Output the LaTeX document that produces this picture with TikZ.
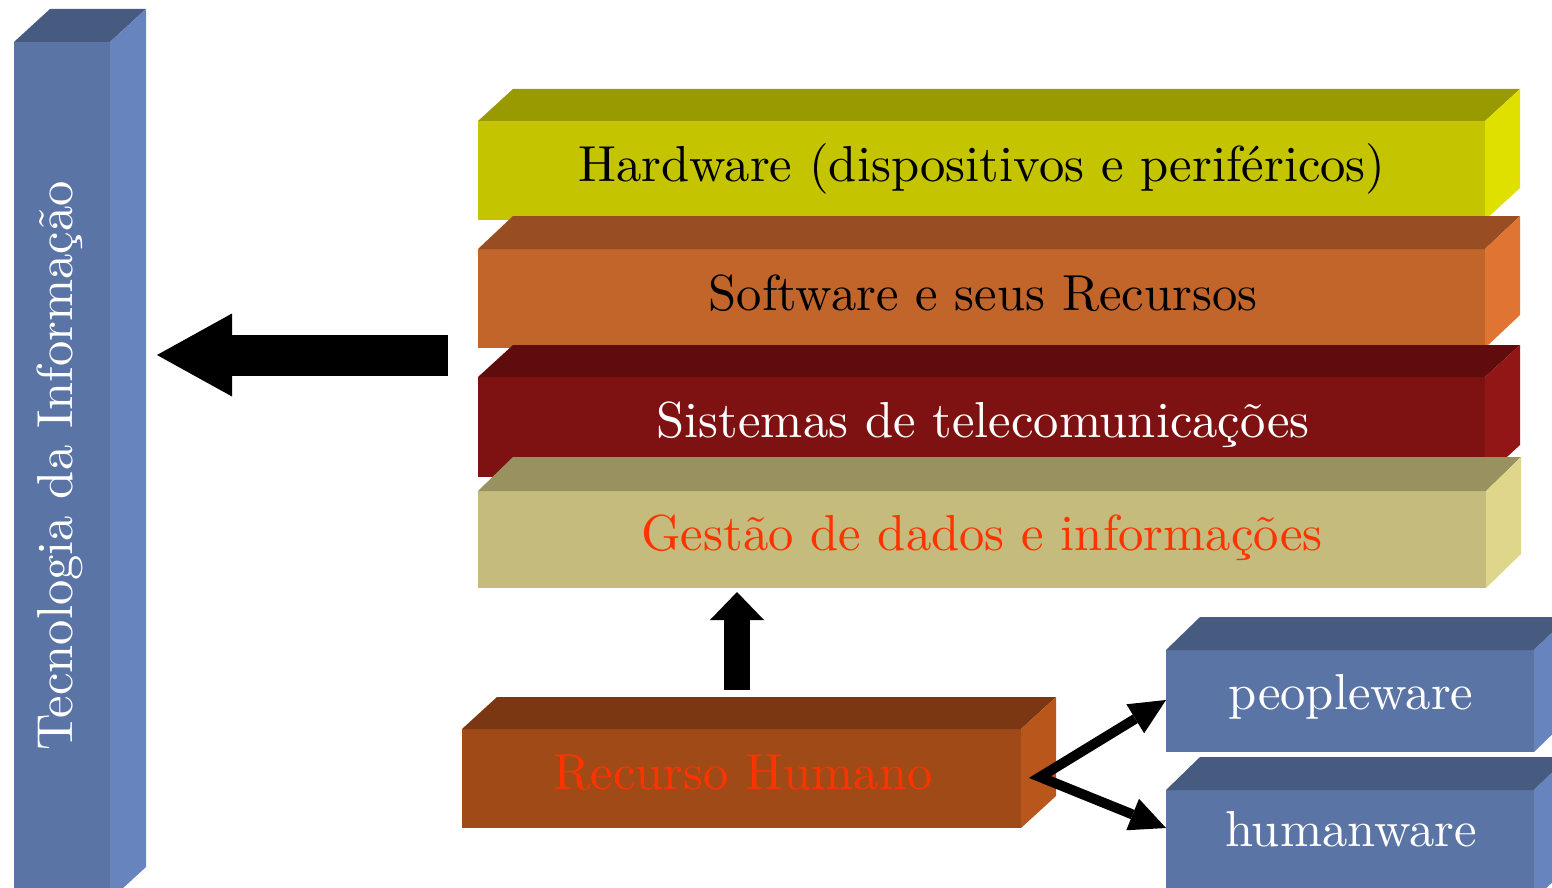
\documentclass[tikz,border=0pt]{standalone}
\usepackage{fontspec}
\setmainfont{lmroman10-regular}[Extension=.otf]
\usetikzlibrary{arrows.meta,calc}
\definecolor{bluefront}{HTML}{5A74A6}
\definecolor{bluetop}{HTML}{475B80}
\definecolor{blueside}{HTML}{6784BE}
\definecolor{hwfront}{HTML}{C4C400}
\definecolor{hwtop}{HTML}{999900}
\definecolor{hwside}{HTML}{E0E000}
\definecolor{swfront}{HTML}{C1652B}
\definecolor{swtop}{HTML}{984E22}
\definecolor{swside}{HTML}{E07432}
\definecolor{stfront}{HTML}{7E1111}
\definecolor{sttop}{HTML}{600C0C}
\definecolor{stside}{HTML}{921616}
\definecolor{gdfront}{HTML}{C4BB7C}
\definecolor{gdtop}{HTML}{99915F}
\definecolor{gdside}{HTML}{E0D68B}
\definecolor{rhfront}{HTML}{A04A18}
\definecolor{rhtop}{HTML}{7B3712}
\definecolor{rhside}{HTML}{B8561B}
\definecolor{redtext}{HTML}{FF3300}
% #1 x1, #2 y1, #3 x2, #4 y2 (front face), #5 dx, #6 dy, #7 colour prefix
\newcommand\slab[7]{%
  \fill[#7front] (#1,#2) rectangle (#3,#4);
  \fill[#7top] (#1,#2) -- (#1+#5,#2-#6) -- (#3+#5,#2-#6) -- (#3,#2) -- cycle;
  \fill[#7side] (#3,#2) -- (#3+#5,#2-#6) -- (#3+#5,#4-#6) -- (#3,#4) -- cycle;
}
\begin{document}
\begin{tikzpicture}[x=0.5pt,y=-0.5pt,
  lbl/.style={font=\fontsize{25.3}{30}\selectfont, inner sep=0pt, anchor=base},
  bigarrow/.style={line width=20.5pt, -{Triangle[length=37.5pt,width=41.5pt,line width=0pt]}},
  uparrow/.style={line width=13pt, -{Triangle[length=14pt,width=27pt,line width=0pt]}},
  thinarrows/.style={line width=5pt, line join=miter,
    {Triangle[length=18pt,width=17pt,line width=0pt]}-{Triangle[length=18pt,width=17pt,line width=0pt]}}]
\useasboundingbox (0,0) rectangle (1552,888);
\clip (0,0) rectangle (1552,888);
% pillar
\slab{14}{42}{110}{900}{36}{33}{blue}
\node[lbl, white, rotate=90] (ti) at (72,466) {Tecnologia da Informação};
% stack
\slab{478}{121}{1485}{220}{35}{32}{hw}
\node[lbl] (hw) at (982,181) {Hardware (dispositivos e periféricos)};
\slab{478}{249}{1485}{348}{35}{33}{sw}
\node[lbl] (sw) at (983,310) {Software e seus Recursos};
\slab{478}{377}{1485}{477}{35}{32}{st}
\node[lbl, white] (st) at (983,437) {Sistemas de telecomunicações};
\slab{478}{491}{1486}{588}{35}{34}{gd}
\node[lbl, redtext] (gd) at (982,550) {Gestão de dados e informações};
% recurso humano
\slab{462}{729}{1021}{828}{35}{32}{rh}
\node[lbl, redtext] (rh) at (743,789) {Recurso Humano};
% peopleware / humanware
\slab{1166}{650}{1534}{752}{34}{33}{blue}
\node[lbl, white] (pw) at (1351,709) {peopleware};
\slab{1166}{790}{1534}{900}{34}{33}{blue}
\node[lbl, white] (hmw) at (1351,846) {humanware};
% connectors
\coordinate (ls) at (448,355);
\coordinate (lt) at (157,355);
\draw[bigarrow] (ls) -- (lt);
\coordinate (us) at (737,690);
\coordinate (ut) at (737,592);
\draw[uparrow] (us) -- (ut);
\coordinate (vtx) at (1040,777);
\coordinate (ptip) at (1166,700);
\coordinate (htip) at (1166,828);
\draw[thinarrows] (ptip) -- (vtx) -- (htip);
\end{tikzpicture}
\end{document}
